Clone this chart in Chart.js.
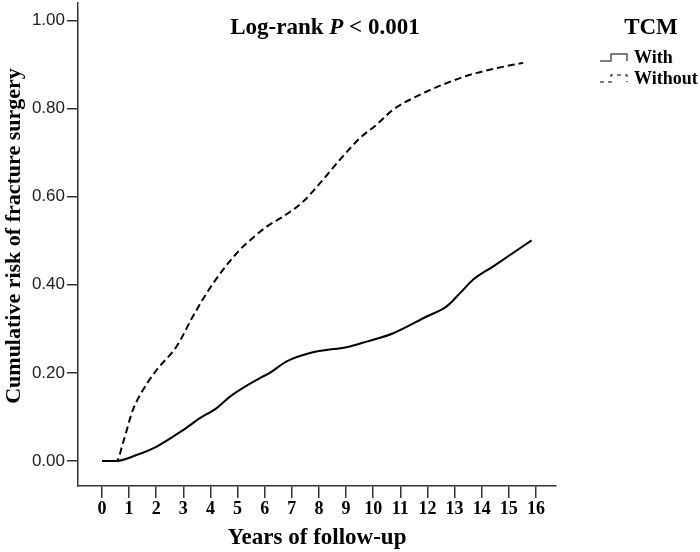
<!DOCTYPE html>
<html lang="en">
<head>
<meta charset="UTF-8">
<title>Cumulative risk of fracture surgery</title>
<script src="https://cdn.jsdelivr.net/npm/chart.js"></script>
<style>
  html, body { margin: 0; padding: 0; background: #fff; }
  #wrap { width: 700px; height: 552px; }
</style>
</head>
<body>
<div id="wrap"><canvas id="myChart" width="700" height="552"></canvas></div>
<script>
    // values
    const withYears = [0, 0.54, 1.3, 2.0, 2.99, 3.61, 4.23, 4.72, 5.82, 6.19, 6.81, 7.67, 9.14, 9.76, 10.74, 11.97, 12.71, 13.2, 13.69, 14.43, 15.84];
    const withRisk = [0, 0, 0.014, 0.032, 0.07, 0.097, 0.12, 0.146, 0.188, 0.2, 0.226, 0.245, 0.26, 0.271, 0.29, 0.328, 0.351, 0.381, 0.412, 0.442, 0.501];
    const withoutYears = [0, 0.54, 0.77, 1.14, 1.51, 2.02, 2.75, 3.35, 3.86, 4.46, 5.09, 5.33, 6.07, 6.68, 7.42, 8.04, 8.77, 9.51, 10.13, 10.74, 11.6, 12.58, 13.57, 14.55, 15.53];
    const withoutRisk = [0, 0, 0.04, 0.116, 0.161, 0.207, 0.26, 0.328, 0.381, 0.434, 0.48, 0.494, 0.532, 0.555, 0.589, 0.631, 0.684, 0.733, 0.764, 0.798, 0.828, 0.855, 0.877, 0.892, 0.904];

    const xTicks = [0, 1, 2, 3, 4, 5, 6, 7, 8, 9, 10, 11, 12, 13, 14, 15, 16];
    const yTicks = [0, 0.2, 0.4, 0.6, 0.8, 1.0];
    const seriesNames = ['With', 'Without'];
    const groupName = 'TCM';
    const yTitle = 'Cumulative risk of fracture surgery';

    const serif = '"Liberation Serif", "Times New Roman", serif';

    function toPoints(xs, ys) {
        return xs.map((x, i) => ({ x: x, y: ys[i] }));
    }

    // title text, y title, legend box on the right
    const overlay = {
        id: 'overlay',
        afterDraw(chart) {
            const ctx = chart.ctx;
            ctx.save();
            ctx.fillStyle = '#000';
            ctx.textBaseline = 'middle';

            const parts = [
                ['Log-rank ', 'bold 23px ' + serif],
                ['P', 'italic bold 23px ' + serif],
                [' < 0.001', 'bold 23px ' + serif]
            ];
            let total = 0;
            parts.forEach(p => { ctx.font = p[1]; total += ctx.measureText(p[0]).width; });
            let x = 325 - total / 2;
            ctx.textAlign = 'left';
            parts.forEach(p => {
                ctx.font = p[1];
                ctx.fillText(p[0], x, 28);
                x += ctx.measureText(p[0]).width;
            });

            // y axis title
            ctx.save();
            ctx.translate(14, 236);
            ctx.rotate(-Math.PI / 2);
            ctx.textAlign = 'center';
            ctx.font = 'bold 22px ' + serif;
            ctx.fillText(yTitle, 0, 0);
            ctx.restore();

            ctx.textAlign = 'center';
            ctx.font = 'bold 23px ' + serif;
            ctx.fillText(groupName, 651, 28);

            ctx.textAlign = 'left';
            ctx.font = 'bold 18px ' + serif;
            chart.data.datasets.forEach((ds, i) => {
                const y = 58 + i * 21;
                ctx.strokeStyle = '#555';
                ctx.lineWidth = 1.5;
                ctx.setLineDash(i === 0 ? [] : [4, 4]);
                ctx.beginPath();
                ctx.moveTo(600, y + 3);
                ctx.lineTo(611, y + 3);
                ctx.lineTo(611, y - 4);
                ctx.lineTo(627, y - 4);
                ctx.lineTo(627, y + 3);
                ctx.stroke();
                ctx.fillText(ds.label, 634, y);
            });
            ctx.restore();
        }
    };

    const ctx = document.getElementById('myChart');
    const chart = new Chart(ctx, {
        type: 'line',
        data: {
            datasets: [{
                label: seriesNames[0],
                data: toPoints(withYears, withRisk),
                borderColor: '#000',
                borderWidth: 2,
                pointRadius: 0,
                fill: false,
                cubicInterpolationMode: 'monotone'
            }, {
                label: seriesNames[1],
                data: toPoints(withoutYears, withoutRisk),
                borderColor: '#000',
                borderWidth: 2,
                borderDash: [7, 4],
                pointRadius: 0,
                fill: false,
                cubicInterpolationMode: 'monotone'
            }]
        },
        options: {
            responsive: false,
            animation: false,
            layout: { padding: { top: 3, right: 144, bottom: 0, left: 0 } },
            plugins: {
                legend: { display: false },
                tooltip: { enabled: false }
            },
            scales: {
                x: {
                    type: 'linear',
                    min: -0.885,
                    max: 16.74,
                    afterBuildTicks: s => { s.ticks = xTicks.map(v => ({ value: v })); },
                    afterFit: s => { s.height = 66; s.paddingLeft = 0; },
                    border: { display: true, color: '#333', width: 1.5 },
                    grid: { drawOnChartArea: false, drawTicks: true, tickLength: 12, color: '#333', lineWidth: 1.5 },
                    ticks: {
                        padding: 1,
                        color: '#000',
                        font: { family: serif, size: 18, weight: 'bold' },
                        maxRotation: 0,
                        autoSkip: false
                    },
                    title: {
                        display: true,
                        text: 'Years of follow-up',
                        color: '#000',
                        font: { family: serif, size: 23, weight: 'bold' },
                        padding: { top: 0, bottom: 0 }
                    }
                },
                y: {
                    min: -0.057,
                    max: 1.04,
                    afterBuildTicks: s => { s.ticks = yTicks.map(v => ({ value: v })); },
                    afterFit: s => { s.width = 78; s.paddingTop = 0; s.paddingBottom = 0; },
                    border: { display: true, color: '#333', width: 1.5 },
                    grid: { drawOnChartArea: false, drawTicks: true, tickLength: 11, color: '#333', lineWidth: 1.5 },
                    ticks: {
                        padding: 2,
                        color: '#222',
                        font: { family: '"Liberation Sans", Arial, sans-serif', size: 17 },
                        callback: v => v.toFixed(2)
                    }
                }
            }
        },
        plugins: [overlay]
    });
</script>
</body>
</html>
